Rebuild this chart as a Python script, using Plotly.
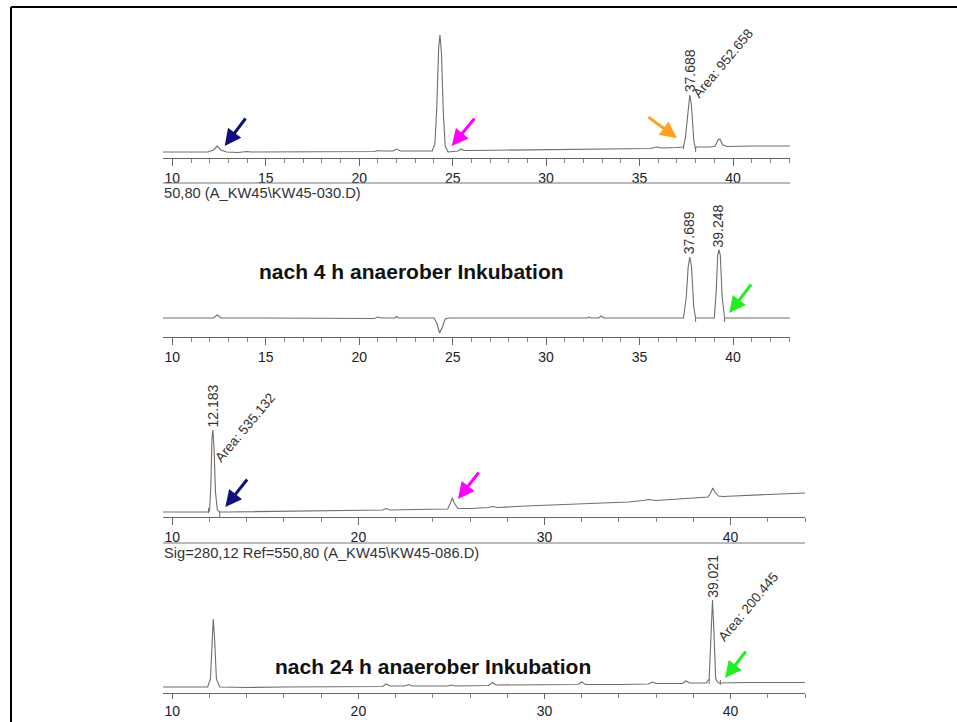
import plotly.graph_objects as go

W, H = 957, 722
FONT = "Arial, Liberation Sans, sans-serif"
LINE = "#6e6e6e"

# ---------- data (retention time in min, detector signal in arbitrary units) ----------
p1_t = [9.5, 11.9, 12.2, 12.4, 12.6, 12.9, 13.5, 14.0, 14.2, 15.0, 16.0, 17.0, 18.0, 19.0, 20.0,
        20.8, 21.0, 21.2, 21.8, 22.0, 22.2, 23.0, 23.9, 24.05, 24.15, 24.25, 24.32, 24.4, 24.5,
        24.6, 24.75, 25.0, 25.3, 25.45, 25.6, 26.0, 28.0, 30.0, 32.0, 34.0, 35.6, 35.9, 36.2,
        37.0, 37.35, 37.45, 37.6, 37.69, 37.78, 37.9, 37.98, 38.05, 38.2, 38.8, 39.05, 39.2,
        39.3, 39.45, 39.7, 41.0, 43.05]
p1_s = [6, 6, 8, 12, 8, 6, 5.5, 6.5, 6, 6, 6, 6, 6.5, 6.5, 6.5,
        6.5, 7.5, 7, 7, 9, 7, 7, 7, 14, 50, 110, 123, 105, 45,
        12, 6, 6.5, 7, 9, 7.5, 7.5, 8, 8, 8.5, 9, 9.5, 11, 10,
        10.5, 11, 20, 52, 63, 52, 18, 10, 11, 11, 11, 12, 18,
        19, 13, 11.5, 12, 12]

p2_t = [9.5, 12.2, 12.4, 12.6, 15.0, 20.8, 21.0, 21.2, 21.9, 22.0, 22.1, 24.0, 24.15, 24.3,
        24.45, 24.6, 24.8, 30.0, 32.2, 32.3, 32.4, 32.8, 32.95, 33.1, 37.35, 37.5, 37.6, 37.69,
        37.78, 37.9, 38.0, 39.0, 39.1, 39.18, 39.25, 39.32, 39.42, 39.55, 43.05]
p2_s = [19, 19, 22, 19, 19, 18.5, 20, 19, 19, 20.5, 19, 19, 14, 4,
        10, 18, 19, 19, 19, 20, 19, 19, 21, 19, 19, 40, 70, 80,
        70, 30, 19, 19, 45, 82, 87, 82, 40, 19, 19]

p3_t = [9.5, 11.9, 12.0, 12.07, 12.13, 12.18, 12.24, 12.32, 12.42, 12.55, 13.0, 15.0, 17.0,
        19.0, 21.3, 21.5, 21.7, 23.0, 24.8, 24.95, 25.05, 25.15, 25.35, 26.0, 27.0, 27.2, 27.5,
        29.0, 31.0, 33.0, 34.5, 35.3, 35.6, 36.0, 37.0, 37.5, 38.0, 38.8, 38.95, 39.05, 39.15,
        39.35, 39.6, 40.5, 42.0, 44.0]
p3_s = [5, 5, 6, 30, 78, 87, 70, 25, 7, 5, 5, 5.5, 6,
        6.5, 7, 8.5, 7, 7.5, 8, 14, 19, 14, 8.5, 8.5, 9.5, 10.5, 9.5,
        11, 12.5, 14, 15, 16.5, 17.5, 16.5, 17.5, 18.5, 19, 20, 25, 29, 25,
        21, 20.5, 21, 22.5, 24]

p4_t = [9.5, 11.9, 12.05, 12.13, 12.2, 12.27, 12.37, 12.55, 14.0, 16.0, 18.0, 20.0, 21.3,
        21.5, 21.7, 22.5, 22.7, 22.9, 24.8, 25.0, 25.2, 27.0, 27.2, 27.4, 29.0, 31.8, 32.0,
        32.2, 34.0, 35.6, 35.8, 36.0, 37.4, 37.6, 37.8, 38.7, 38.85, 38.95, 39.03, 39.11,
        39.2, 39.35, 41.0, 44.0]
p4_s = [6, 6, 14, 55, 74, 55, 14, 6, 5.5, 6, 6, 6, 6.5,
        9, 7, 7, 8.5, 7, 7, 8, 7, 7.5, 10.5, 8, 8, 8.5, 11,
        8.5, 8.5, 9, 11, 9.5, 9.5, 12, 10, 10, 14, 60, 93, 60,
        14, 10, 10.5, 10.5]

times = [p1_t, p2_t, p3_t, p4_t]
signals = [p1_s, p2_s, p3_s, p4_s]

# integration start/end markers: (time, low, high) per panel
mark_t = [[37.35, 38.0], [38.0, 39.55], [11.95, 12.55], [38.85, 39.45]]
mark_lo = [[9, 6], [15, 15], [4, 0], [9, 8]]
mark_hi = [[13, 11], [19, 19], [9, 5], [14, 13]]

# peak labels
peak_rt = [37.688, 37.689, 39.248, 12.183, 39.021]
peak_panel = [1, 2, 2, 3, 4]
peak_label = ["37.688", "37.689", "39.248", "12.183", "39.021"]
peak_top = [64, 81, 88, 88, 93]

area_panel = [1, 3, 4]
area_label = ["Area: 952.658", "Area: 535.132", "Area: 200.445"]
area_rt = [37.55, 12.0, 39.05]
area_sig = [54, 49, 46]

# arrows
arrow_panel = [1, 1, 1, 2, 3, 3, 4]
arrow_rt = [12.8, 24.95, 37.0, 39.8, 12.85, 25.35, 39.7]
arrow_sig = [12, 12, 20, 24, 10, 18, 15]
arrow_color = ["#10107a", "#ff00ff", "#ffa01e", "#22ee22", "#10107a", "#ff00ff", "#22ee22"]
arrow_dx = [22, 24, -30, 23, 23, 22, 22]
arrow_dy = [-29, -29, -22, -30, -29, -28, -28]

# ---------- panel geometry (pixels) ----------
panels = [
    dict(x0=163, x1=790, top=15, axis=158, rng=[9.5, 43.05], dtick=5, minor=1, tl=7),
    dict(x0=163, x1=790, top=195, axis=337, rng=[9.5, 43.05], dtick=5, minor=1, tl=7),
    dict(x0=163, x1=805, top=375, axis=517, rng=[9.5, 44.0], dtick=10, minor=2, tl=7),
    dict(x0=163, x1=805, top=557, axis=693, rng=[9.5, 44.0], dtick=10, minor=2, tl=5),
]


def px(x):
    return x / W


def py(y):
    return 1 - y / H


fig = go.Figure()
layout = dict(width=W, height=H, margin=dict(l=0, r=0, t=0, b=0, pad=0),
              paper_bgcolor="white", plot_bgcolor="white", showlegend=False,
              font=dict(family=FONT, color="#222"))

for i, p in enumerate(panels):
    n = "" if i == 0 else str(i + 1)
    fig.add_trace(go.Scatter(x=times[i], y=signals[i], mode="lines",
                             line=dict(color=LINE, width=1.1),
                             xaxis="x" + n, yaxis="y" + n, hoverinfo="skip"))
    mx, my = [], []
    for t, lo, hi in zip(mark_t[i], mark_lo[i], mark_hi[i]):
        mx += [t, t, None]
        my += [lo, hi, None]
    fig.add_trace(go.Scatter(x=mx, y=my, mode="lines", line=dict(color=LINE, width=1),
                             xaxis="x" + n, yaxis="y" + n, hoverinfo="skip"))
    layout["xaxis" + n] = dict(
        domain=[px(p["x0"]), px(p["x1"])], range=p["rng"], anchor="y" + n,
        showline=True, linecolor="#666", linewidth=1.2, mirror=False,
        ticks="outside", ticklen=p["tl"], tickwidth=1, tickcolor="#666",
        tick0=0, dtick=p["dtick"],
        minor=dict(ticks="outside", dtick=p["minor"], tick0=0, ticklen=4, tickcolor="#888"),
        tickfont=dict(family=FONT, size=14, color="#222"),
        showgrid=False, zeroline=False, fixedrange=True, automargin=False)
    layout["yaxis" + n] = dict(
        domain=[py(p["axis"]), py(p["top"])], range=[0, p["axis"] - p["top"]],
        anchor="x" + n, visible=False, fixedrange=True, automargin=False)

annotations = []


def refs(panel):
    n = "" if panel == 1 else str(panel)
    return "x" + n, "y" + n


for k in range(len(peak_rt)):
    xr, yr = refs(peak_panel[k])
    annotations.append(dict(x=peak_rt[k], y=peak_top[k], xref=xr, yref=yr, text=peak_label[k],
                            showarrow=False, textangle=-90, xanchor="center", yanchor="bottom",
                            font=dict(family=FONT, size=14, color="#333")))

for k in range(len(area_rt)):
    xr, yr = refs(area_panel[k])
    annotations.append(dict(x=area_rt[k], y=area_sig[k], xref=xr, yref=yr, text=area_label[k],
                            showarrow=False, textangle=-50, xanchor="left", yanchor="bottom",
                            font=dict(family=FONT, size=13.5, color="#333")))

for k in range(len(arrow_rt)):
    xr, yr = refs(arrow_panel[k])
    annotations.append(dict(x=arrow_rt[k], y=arrow_sig[k], xref=xr, yref=yr, text="",
                            showarrow=True, ax=arrow_dx[k], ay=arrow_dy[k],
                            arrowhead=2, arrowsize=1.1, arrowwidth=3,
                            arrowcolor=arrow_color[k]))

annotations += [
    dict(x=px(411), y=py(271), xref="paper", yref="paper", text="<b>nach 4 h anaerober Inkubation</b>",
         showarrow=False, xanchor="center", yanchor="middle",
         font=dict(family=FONT, size=21, color="#111")),
    dict(x=px(433), y=py(666), xref="paper", yref="paper", text="<b>nach 24 h anaerober Inkubation</b>",
         showarrow=False, xanchor="center", yanchor="middle",
         font=dict(family=FONT, size=21, color="#111")),
    dict(x=px(162), y=py(193), xref="paper", yref="paper", text="50,80 (A_KW45\\KW45-030.D)",
         showarrow=False, xanchor="left", yanchor="middle",
         font=dict(family=FONT, size=14.7, color="#333")),
    dict(x=px(162), y=py(553), xref="paper", yref="paper",
         text="Sig=280,12 Ref=550,80 (A_KW45\\KW45-086.D)",
         showarrow=False, xanchor="left", yanchor="middle",
         font=dict(family=FONT, size=14.7, color="#333")),
]

shapes = [
    dict(type="line", xref="paper", yref="paper", x0=px(11), x1=1, y0=py(7), y1=py(7),
         line=dict(color="black", width=2)),
    dict(type="line", xref="paper", yref="paper", x0=px(11), x1=px(11), y0=py(7), y1=0,
         line=dict(color="black", width=2)),
    dict(type="line", xref="paper", yref="paper", x0=px(163), x1=px(790), y0=py(183), y1=py(183),
         line=dict(color="#777", width=1.2)),
    dict(type="line", xref="paper", yref="paper", x0=px(163), x1=px(805), y0=py(543), y1=py(543),
         line=dict(color="#777", width=1.2)),
]

layout["annotations"] = annotations
layout["shapes"] = shapes
fig.update_layout(**layout)
fig.write_html("out.html")
